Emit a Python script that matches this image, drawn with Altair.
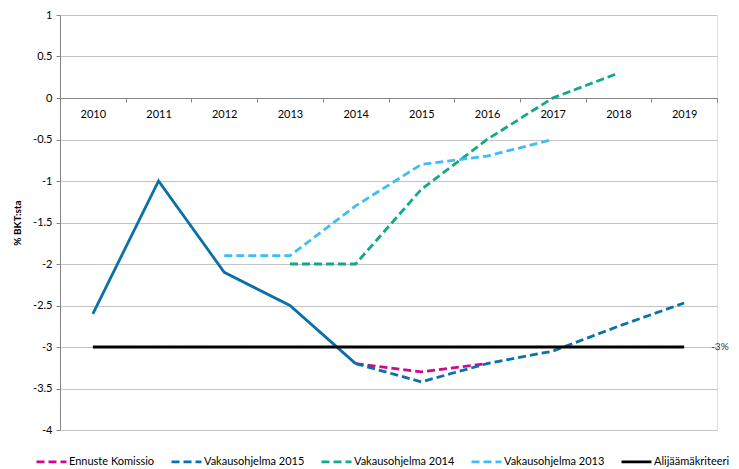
import altair as alt
import pandas as pd

years = ["2010", "2011", "2012", "2013", "2014", "2015", "2016", "2017", "2018", "2019"]
toteutunut = [-2.6, -1.0, -2.1, -2.5, -3.2, None, None, None, None, None]
komissio = [None, None, None, None, -3.2, -3.3, -3.2, None, None, None]
vakaus2015 = [None, None, None, None, -3.2, -3.42, -3.2, -3.05, -2.75, -2.47]
vakaus2014 = [None, None, None, -2.0, -2.0, -1.1, -0.5, 0.0, 0.3, None]
vakaus2013 = [None, None, -1.9, -1.9, -1.3, -0.8, -0.7, -0.5, None, None]
kriteeri = [-3.0] * 10

series_names = ["Ennuste Komissio", "Vakausohjelma 2015", "Vakausohjelma 2014",
                "Vakausohjelma 2013", "Alijäämäkriteeri"]
series_values = [komissio, vakaus2015, vakaus2014, vakaus2013, kriteeri]
series_colors = ["#CC0A8A", "#0A70AA", "#14A888", "#40BDF5", "#000000"]
series_dash = [[8, 4], [8, 4], [8, 4], [8, 4], [1, 0]]
draw_order = [1, 0, 2, 3, 4]

rows = []
for name, vals in zip(series_names, series_values):
    for y, v in zip(years, vals):
        if v is not None:
            rows.append({"vuosi": y, "arvo": v, "sarja": name, "ord": draw_order[series_names.index(name)]})
df = pd.DataFrame(rows)

hist = pd.DataFrame([{"vuosi": y, "arvo": v} for y, v in zip(years, toteutunut) if v is not None])
lbl = pd.DataFrame([{"vuosi": years[-1], "arvo": kriteeri[-1], "t": "-3%"}])

FONT = "Lato"

xscale = alt.Scale(type="band", domain=years, paddingInner=0, paddingOuter=0)
xenc = alt.X("vuosi:N", scale=xscale, bandPosition=0.5,
             axis=alt.Axis(title=None, orient="bottom", offset=-332, labelAngle=0,
                           domainColor="#868686", tickColor="#868686", tickBand="extent",
                           tickSize=4, labelPadding=6, labelColor="#000000",
                           labelFontSize=11, labelFont=FONT, grid=False))
yscale = alt.Scale(domain=[-4, 1], nice=False, zero=False)

base_axis_y = alt.Axis(title="% BKT:sta", values=[-4, -3.5, -3, -2.5, -2, -1.5, -1, -0.5, 0, 0.5, 1],
                       labelExpr="'' + datum.value", grid=True, gridColor="#C4C4C4", gridWidth=1,
                       domainColor="#868686", tickColor="#868686", tickSize=4, labelPadding=4,
                       labelFontSize=11, labelFont=FONT, labelColor="#000000",
                       titleFont=FONT, titleFontSize=10, titleFontWeight="bold",
                       titleColor="#000000", titleX=-38)

hist_layer = alt.Chart(hist).mark_line(strokeWidth=2.8, color="#0A70AA").encode(
    x=xenc, y=alt.Y("arvo:Q", scale=yscale, axis=base_axis_y))

lines = alt.Chart(df).mark_line(strokeWidth=2.8).encode(
    x=alt.X("vuosi:N", scale=xscale, bandPosition=0.5),
    y=alt.Y("arvo:Q", scale=yscale),
    color=alt.Color("sarja:N", scale=alt.Scale(domain=series_names, range=series_colors),
                    legend=alt.Legend(title=None, orient="none", direction="horizontal", columns=5,
                                      legendX=-25, legendY=430, symbolType="stroke",
                                      symbolSize=900, symbolStrokeWidth=2.8, labelFont=FONT,
                                      labelFontSize=11, labelColor="#000000", labelOffset=1,
                                      columnPadding=10)),
    strokeDash=alt.StrokeDash("sarja:N", scale=alt.Scale(domain=series_names, range=series_dash),
                              legend=None),
    order="ord:Q",
    detail="sarja:N",
)

text_layer = alt.Chart(lbl).mark_text(align="left", dx=27, fontSize=10, font=FONT, color="#333333").encode(
    x=alt.X("vuosi:N", scale=xscale, bandPosition=0.5),
    y=alt.Y("arvo:Q", scale=yscale),
    text="t:N")

chart = alt.layer(hist_layer, lines, text_layer).properties(
    width=657, height=415,
    autosize=alt.AutoSizeParams(type="none"),
    padding={"left": 52, "top": 7, "right": 14, "bottom": 39},
).configure_view(stroke=None).configure(font=FONT)

chart.save("out.html", embed_options={"renderer": "svg", "actions": False})
